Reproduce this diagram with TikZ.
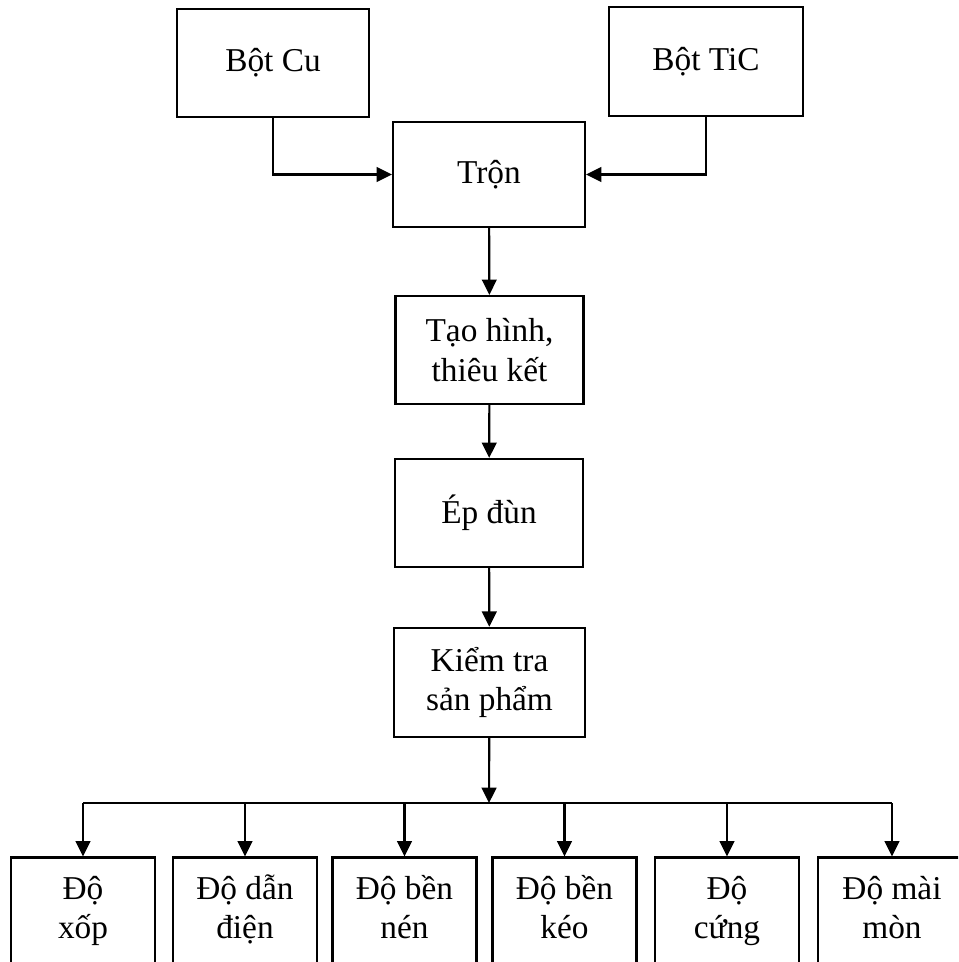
\documentclass[tikz,border=0pt]{standalone}
\usepackage{fontspec}
\setmainfont{Liberation Serif}
\usetikzlibrary{arrows.meta}

\tikzset{every picture/.style={line width=1.6pt}}
\tikzset{
	box/.style={draw, rectangle, align=center, inner sep=0pt,
		font=\fontsize{25}{29.5}\selectfont},
	leaf/.style={box, minimum width=108pt, minimum height=84pt,
		text height=52pt, text depth=14pt},
	arr/.style={-{Triangle[length=11.5pt,width=11pt]}}}

\begin{document}
\begin{tikzpicture}[x=0.75pt,y=0.75pt,yscale=-1,xscale=1]
	\useasboundingbox (0,0) rectangle (958,962);
	\clip (0,0) rectangle (958,962);

	%Shape: Rectangle [Bot Cu]
	\node [box, minimum width=144pt, minimum height=81pt] (cu) at (273,63) {Bột Cu};
	%Shape: Rectangle [Bot TiC]
	\node [box, minimum width=145pt, minimum height=82pt] (tic) at (706,61.5) {Bột TiC};
	%Shape: Rectangle [Tron]
	\node [box, minimum width=144pt, minimum height=79pt] (tron) at (489,174.5) {Trộn};
	%Shape: Rectangle [Tao hinh]
	\node [box, minimum width=141pt, minimum height=81pt] (tao) at (489.5,350) {Tạo hình,\\thiêu kết};
	%Shape: Rectangle [Ep dun]
	\node [box, minimum width=141pt, minimum height=81pt] (ep) at (489,513) {Ép đùn};
	%Shape: Rectangle [Kiem tra]
	\node [box, minimum width=143pt, minimum height=82pt] (kt) at (489.5,682.5) {Kiểm tra\\sản phẩm};

	% bottom row
	\node [leaf] (xop) at (83,913.5) {Độ\\xốp};
	\node [leaf] (dan) at (245,913.5) {Độ dẫn\\điện};
	\node [leaf] (nen) at (404.5,913.5) {Độ bền\\nén};
	\node [leaf] (keo) at (564.5,913.5) {Độ bền\\kéo};
	\node [leaf] (cung) at (727,913.5) {Độ\\cứng};
	\node [leaf, minimum width=111pt] (mon) at (892,913.5) {Độ mài\\mòn};

	\coordinate (bus) at (489,803);

	% Arrows
	\draw [arr] (cu.south) |- (tron.west);
	\draw [arr] (tic.south) |- (tron.east);
	\draw [arr] (tron) -- (tao);
	\draw [arr] (tao) -- (ep);
	\draw [arr] (ep) -- (kt);
	\draw [arr] (kt) -- (bus);
	\draw (xop.north |- bus) -- (mon.north |- bus);
	\draw [arr] (xop.north |- bus) -- (xop.north);
	\draw [arr] (dan.north |- bus) -- (dan.north);
	\draw [arr] (nen.north |- bus) -- (nen.north);
	\draw [arr] (keo.north |- bus) -- (keo.north);
	\draw [arr] (cung.north |- bus) -- (cung.north);
	\draw [arr] (mon.north |- bus) -- (mon.north);

\end{tikzpicture}
\end{document}
